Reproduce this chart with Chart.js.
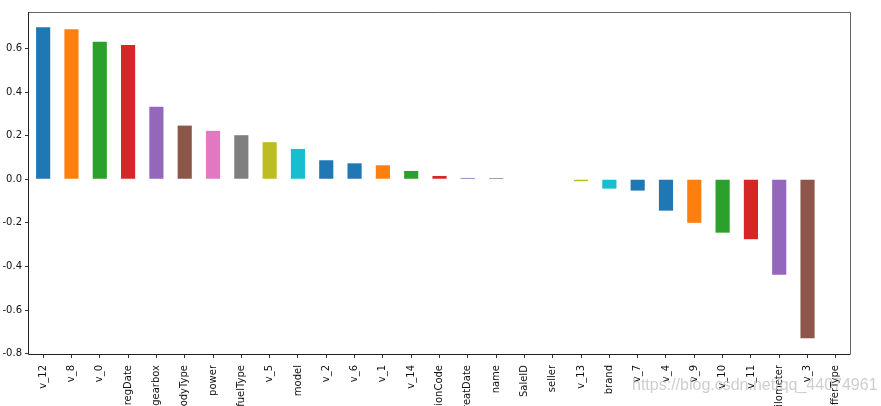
<!DOCTYPE html>
<html>
<head>
<meta charset="utf-8">
<script src="https://cdn.jsdelivr.net/npm/chart.js@4/dist/chart.umd.min.js"></script>
<style>
  html, body { margin: 0; padding: 0; background: #fff; overflow: hidden; }
  #wrap { position: relative; width: 881px; height: 406px; }
</style>
</head>
<body>
<div id="wrap"><canvas id="corrChart" width="881" height="406"></canvas></div>
<script>
// correlation of each feature with price
const features = ['v_12', 'v_8', 'v_0', 'regDate', 'gearbox', 'bodyType', 'power', 'fuelType', 'v_5', 'model',
  'v_2', 'v_6', 'v_1', 'v_14', 'regionCode', 'creatDate', 'name', 'SaleID', 'seller', 'v_13',
  'brand', 'v_7', 'v_4', 'v_9', 'v_10', 'v_11', 'kilometer', 'v_3', 'offerType'];
const corrValues = [0.697, 0.688, 0.630, 0.616, 0.332, 0.246, 0.222, 0.202, 0.170, 0.139,
  0.087, 0.073, 0.064, 0.038, 0.015, 0.006, 0.005, 0.0, null, -0.009,
  -0.043, -0.052, -0.144, -0.200, -0.245, -0.275, -0.438, -0.729, null];
const yTicks = [-0.8, -0.6, -0.4, -0.2, 0.0, 0.2, 0.4, 0.6];
const watermark = 'https://blog.csdn.net/qq_44074961';

// matplotlib colour cycle as it came out in the original plot (11 long)
const palette = ['#1f77b4', '#ff7f0e', '#2ca02c', '#d62728', '#9467bd', '#8c564b',
  '#e377c2', '#7f7f7f', '#bcbd22', '#17becf', '#1f77b4'];
const barColors = features.map((f, i) => palette[i % palette.length]);

const tickFont = { family: 'DejaVu Sans', size: 10 };

const framePlugin = {
  id: 'frame',
  afterDraw(chart) {
    const { ctx, chartArea: a } = chart;
    ctx.save();
    ctx.lineWidth = 1;
    ctx.strokeStyle = '#666';
    ctx.beginPath();
    ctx.moveTo(a.left, a.top + 0.5);
    ctx.lineTo(a.right + 0.5, a.top + 0.5);
    ctx.lineTo(a.right + 0.5, a.bottom);
    ctx.stroke();
    ctx.strokeStyle = '#222';
    ctx.beginPath();
    ctx.moveTo(a.left - 0.5, a.top);
    ctx.lineTo(a.left - 0.5, a.bottom + 0.5);
    ctx.lineTo(a.right + 0.5, a.bottom + 0.5);
    ctx.stroke();
    // blog watermark
    ctx.font = '16px "Liberation Sans"';
    ctx.fillStyle = 'rgba(190, 190, 190, 0.75)';
    ctx.textBaseline = 'alphabetic';
    ctx.fillText(watermark, 632, 390);
    ctx.restore();
  }
};

new Chart(document.getElementById('corrChart'), {
  type: 'bar',
  data: {
    labels: features,
    datasets: [{
      data: corrValues,
      backgroundColor: barColors,
      borderWidth: 0,
      barPercentage: 0.5,
      categoryPercentage: 1.0
    }]
  },
  options: {
    responsive: false,
    animation: false,
    layout: { padding: { top: 12, right: 31, left: 0, bottom: 0 } },
    plugins: {
      legend: { display: false },
      tooltip: { enabled: false }
    },
    scales: {
      x: {
        grid: { display: true, drawOnChartArea: false, offset: false, tickLength: 4, color: '#333' },
        border: { display: false },
        ticks: { color: '#111', font: tickFont, minRotation: 90, maxRotation: 90, autoSkip: false, padding: 7 },
        afterFit(scale) { scale.height = 52; }
      },
      y: {
        min: -0.8015,
        max: 0.767,
        grid: { display: true, drawOnChartArea: false, tickLength: 4, color: '#333' },
        border: { display: false },
        ticks: { color: '#111', font: tickFont, padding: 3, callback: v => Number(v).toFixed(1) },
        afterBuildTicks(scale) { scale.ticks = yTicks.map(v => ({ value: v })); },
        afterFit(scale) { scale.width = 29; }
      }
    }
  },
  plugins: [framePlugin]
});
</script>
</body>
</html>
